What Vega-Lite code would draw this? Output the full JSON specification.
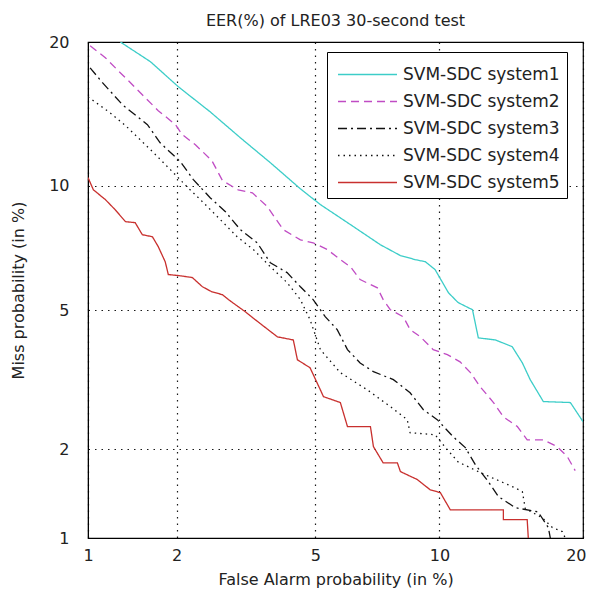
{
  "$schema": "https://vega.github.io/schema/vega-lite/v6.json",
  "width": 495,
  "height": 496,
  "autosize": "none",
  "padding": {"left": 88, "top": 42, "right": 9, "bottom": 51},
  "background": "white",
  "config": {
    "font": "DejaVu Sans",
    "view": {"stroke": "black", "strokeWidth": 1.2},
    "axis": {"labelColor": "#222", "titleColor": "#222", "labelFont": "DejaVu Sans", "titleFont": "DejaVu Sans"},
    "legend": {"labelFont": "DejaVu Sans"},
    "title": {"font": "DejaVu Sans"}
  },
  "title": {"text": "EER(%) of LRE03 30-second test", "fontSize": 16, "fontWeight": "normal", "color": "#222", "offset": 5},
  "data": {"values": [
    {"s": "SVM-SDC system1", "fa": 1.304, "miss": 20},
    {"s": "SVM-SDC system1", "fa": 1.648, "miss": 18.29},
    {"s": "SVM-SDC system1", "fa": 2.027, "miss": 16.29},
    {"s": "SVM-SDC system1", "fa": 2.539, "miss": 14.47},
    {"s": "SVM-SDC system1", "fa": 3.114, "miss": 12.76},
    {"s": "SVM-SDC system1", "fa": 3.788, "miss": 11.26},
    {"s": "SVM-SDC system1", "fa": 4.569, "miss": 9.85},
    {"s": "SVM-SDC system1", "fa": 5.157, "miss": 9.067},
    {"s": "SVM-SDC system1", "fa": 6.15, "miss": 8.146},
    {"s": "SVM-SDC system1", "fa": 7.281, "miss": 7.297},
    {"s": "SVM-SDC system1", "fa": 8.13, "miss": 6.868},
    {"s": "SVM-SDC system1", "fa": 8.809, "miss": 6.712},
    {"s": "SVM-SDC system1", "fa": 9.293, "miss": 6.634},
    {"s": "SVM-SDC system1", "fa": 9.78, "miss": 6.341},
    {"s": "SVM-SDC system1", "fa": 10.48, "miss": 5.548},
    {"s": "SVM-SDC system1", "fa": 11.01, "miss": 5.236},
    {"s": "SVM-SDC system1", "fa": 11.84, "miss": 5.017},
    {"s": "SVM-SDC system1", "fa": 12.19, "miss": 4.226},
    {"s": "SVM-SDC system1", "fa": 13.27, "miss": 4.171},
    {"s": "SVM-SDC system1", "fa": 14.39, "miss": 3.999},
    {"s": "SVM-SDC system1", "fa": 15.11, "miss": 3.607},
    {"s": "SVM-SDC system1", "fa": 15.68, "miss": 3.236},
    {"s": "SVM-SDC system1", "fa": 16.68, "miss": 2.795},
    {"s": "SVM-SDC system1", "fa": 18.89, "miss": 2.777},
    {"s": "SVM-SDC system1", "fa": 20, "miss": 2.435},

    {"s": "SVM-SDC system2", "fa": 1.018, "miss": 19.66},
    {"s": "SVM-SDC system2", "fa": 1.155, "miss": 18.63},
    {"s": "SVM-SDC system2", "fa": 1.282, "miss": 17.55},
    {"s": "SVM-SDC system2", "fa": 1.39, "miss": 16.76},
    {"s": "SVM-SDC system2", "fa": 1.548, "miss": 15.69},
    {"s": "SVM-SDC system2", "fa": 1.747, "miss": 14.55},
    {"s": "SVM-SDC system2", "fa": 1.984, "miss": 13.6},
    {"s": "SVM-SDC system2", "fa": 2.085, "miss": 12.95},
    {"s": "SVM-SDC system2", "fa": 2.29, "miss": 12.32},
    {"s": "SVM-SDC system2", "fa": 2.57, "miss": 11.38},
    {"s": "SVM-SDC system2", "fa": 2.763, "miss": 10.28},
    {"s": "SVM-SDC system2", "fa": 3.071, "miss": 9.796},
    {"s": "SVM-SDC system2", "fa": 3.373, "miss": 9.647},
    {"s": "SVM-SDC system2", "fa": 3.714, "miss": 8.971},
    {"s": "SVM-SDC system2", "fa": 4.107, "miss": 7.928},
    {"s": "SVM-SDC system2", "fa": 4.569, "miss": 7.493},
    {"s": "SVM-SDC system2", "fa": 4.937, "miss": 7.375},
    {"s": "SVM-SDC system2", "fa": 5.376, "miss": 7.102},
    {"s": "SVM-SDC system2", "fa": 5.8, "miss": 6.712},
    {"s": "SVM-SDC system2", "fa": 6.15, "miss": 6.446},
    {"s": "SVM-SDC system2", "fa": 6.5, "miss": 5.991},
    {"s": "SVM-SDC system2", "fa": 7.163, "miss": 5.712},
    {"s": "SVM-SDC system2", "fa": 7.398, "miss": 5.33},
    {"s": "SVM-SDC system2", "fa": 7.694, "miss": 5.017},
    {"s": "SVM-SDC system2", "fa": 8.261, "miss": 4.806},
    {"s": "SVM-SDC system2", "fa": 8.567, "miss": 4.447},
    {"s": "SVM-SDC system2", "fa": 9.051, "miss": 4.253},
    {"s": "SVM-SDC system2", "fa": 9.68, "miss": 3.926},
    {"s": "SVM-SDC system2", "fa": 10.42, "miss": 3.803},
    {"s": "SVM-SDC system2", "fa": 11.12, "miss": 3.632},
    {"s": "SVM-SDC system2", "fa": 11.72, "miss": 3.387},
    {"s": "SVM-SDC system2", "fa": 12.31, "miss": 3.086},
    {"s": "SVM-SDC system2", "fa": 13.14, "miss": 2.777},
    {"s": "SVM-SDC system2", "fa": 13.79, "miss": 2.518},
    {"s": "SVM-SDC system2", "fa": 14.75, "miss": 2.353},
    {"s": "SVM-SDC system2", "fa": 15.46, "miss": 2.14},
    {"s": "SVM-SDC system2", "fa": 16.68, "miss": 2.14},
    {"s": "SVM-SDC system2", "fa": 17.78, "miss": 2.039},
    {"s": "SVM-SDC system2", "fa": 18.63, "miss": 1.895},
    {"s": "SVM-SDC system2", "fa": 19.31, "miss": 1.708},

    {"s": "SVM-SDC system3", "fa": 1.018, "miss": 17.79},
    {"s": "SVM-SDC system3", "fa": 1.128, "miss": 16.61},
    {"s": "SVM-SDC system3", "fa": 1.325, "miss": 14.97},
    {"s": "SVM-SDC system3", "fa": 1.61, "miss": 13.6},
    {"s": "SVM-SDC system3", "fa": 1.772, "miss": 12.44},
    {"s": "SVM-SDC system3", "fa": 2.056, "miss": 11.32},
    {"s": "SVM-SDC system3", "fa": 2.257, "miss": 10.33},
    {"s": "SVM-SDC system3", "fa": 2.539, "miss": 9.403},
    {"s": "SVM-SDC system3", "fa": 2.82, "miss": 8.729},
    {"s": "SVM-SDC system3", "fa": 3.114, "miss": 7.928},
    {"s": "SVM-SDC system3", "fa": 3.481, "miss": 7.375},
    {"s": "SVM-SDC system3", "fa": 3.788, "miss": 6.595},
    {"s": "SVM-SDC system3", "fa": 4.209, "miss": 6.236},
    {"s": "SVM-SDC system3", "fa": 4.569, "miss": 5.747},
    {"s": "SVM-SDC system3", "fa": 4.937, "miss": 5.33},
    {"s": "SVM-SDC system3", "fa": 5.313, "miss": 4.806},
    {"s": "SVM-SDC system3", "fa": 5.695, "miss": 4.447},
    {"s": "SVM-SDC system3", "fa": 6.045, "miss": 3.926},
    {"s": "SVM-SDC system3", "fa": 6.5, "miss": 3.607},
    {"s": "SVM-SDC system3", "fa": 7.007, "miss": 3.409},
    {"s": "SVM-SDC system3", "fa": 7.825, "miss": 3.236},
    {"s": "SVM-SDC system3", "fa": 8.567, "miss": 2.966},
    {"s": "SVM-SDC system3", "fa": 9.196, "miss": 2.644},
    {"s": "SVM-SDC system3", "fa": 9.887, "miss": 2.469},
    {"s": "SVM-SDC system3", "fa": 10.74, "miss": 2.187},
    {"s": "SVM-SDC system3", "fa": 11.42, "miss": 2.025},
    {"s": "SVM-SDC system3", "fa": 12.02, "miss": 1.783},
    {"s": "SVM-SDC system3", "fa": 12.81, "miss": 1.571},
    {"s": "SVM-SDC system3", "fa": 13.46, "miss": 1.4},
    {"s": "SVM-SDC system3", "fa": 14.61, "miss": 1.282},
    {"s": "SVM-SDC system3", "fa": 16.28, "miss": 1.239},
    {"s": "SVM-SDC system3", "fa": 17.07, "miss": 1.091},
    {"s": "SVM-SDC system3", "fa": 17.23, "miss": 1},

    {"s": "SVM-SDC system4", "fa": 1, "miss": 15.54},
    {"s": "SVM-SDC system4", "fa": 1.201, "miss": 14.4},
    {"s": "SVM-SDC system4", "fa": 1.358, "miss": 13.54},
    {"s": "SVM-SDC system4", "fa": 1.523, "miss": 12.63},
    {"s": "SVM-SDC system4", "fa": 1.685, "miss": 11.85},
    {"s": "SVM-SDC system4", "fa": 1.912, "miss": 10.87},
    {"s": "SVM-SDC system4", "fa": 2.157, "miss": 9.956},
    {"s": "SVM-SDC system4", "fa": 2.423, "miss": 9.16},
    {"s": "SVM-SDC system4", "fa": 2.725, "miss": 8.364},
    {"s": "SVM-SDC system4", "fa": 3.05, "miss": 7.624},
    {"s": "SVM-SDC system4", "fa": 3.395, "miss": 7.102},
    {"s": "SVM-SDC system4", "fa": 3.788, "miss": 6.446},
    {"s": "SVM-SDC system4", "fa": 4.209, "miss": 5.887},
    {"s": "SVM-SDC system4", "fa": 4.569, "miss": 5.33},
    {"s": "SVM-SDC system4", "fa": 4.846, "miss": 4.723},
    {"s": "SVM-SDC system4", "fa": 5.157, "miss": 3.926},
    {"s": "SVM-SDC system4", "fa": 5.8, "miss": 3.387},
    {"s": "SVM-SDC system4", "fa": 6.773, "miss": 3.023},
    {"s": "SVM-SDC system4", "fa": 7.694, "miss": 2.701},
    {"s": "SVM-SDC system4", "fa": 8.435, "miss": 2.469},
    {"s": "SVM-SDC system4", "fa": 8.567, "miss": 2.253},
    {"s": "SVM-SDC system4", "fa": 9.78, "miss": 2.22},
    {"s": "SVM-SDC system4", "fa": 10.32, "miss": 2.025},
    {"s": "SVM-SDC system4", "fa": 11.01, "miss": 1.823},
    {"s": "SVM-SDC system4", "fa": 12.31, "miss": 1.683},
    {"s": "SVM-SDC system4", "fa": 14.61, "miss": 1.497},
    {"s": "SVM-SDC system4", "fa": 15.11, "miss": 1.453},
    {"s": "SVM-SDC system4", "fa": 15.32, "miss": 1.273},
    {"s": "SVM-SDC system4", "fa": 16.6, "miss": 1.182},
    {"s": "SVM-SDC system4", "fa": 17.39, "miss": 1.091},
    {"s": "SVM-SDC system4", "fa": 18.2, "miss": 1.055},
    {"s": "SVM-SDC system4", "fa": 18.46, "miss": 1},

    {"s": "SVM-SDC system5", "fa": 1, "miss": 10.44},
    {"s": "SVM-SDC system5", "fa": 1.046, "miss": 9.8},
    {"s": "SVM-SDC system5", "fa": 1.155, "miss": 9.309},
    {"s": "SVM-SDC system5", "fa": 1.25, "miss": 8.826},
    {"s": "SVM-SDC system5", "fa": 1.358, "miss": 8.277},
    {"s": "SVM-SDC system5", "fa": 1.465, "miss": 8.233},
    {"s": "SVM-SDC system5", "fa": 1.548, "miss": 7.711},
    {"s": "SVM-SDC system5", "fa": 1.672, "miss": 7.624},
    {"s": "SVM-SDC system5", "fa": 1.747, "miss": 7.219},
    {"s": "SVM-SDC system5", "fa": 1.84, "miss": 6.634},
    {"s": "SVM-SDC system5", "fa": 1.883, "miss": 6.166},
    {"s": "SVM-SDC system5", "fa": 2.027, "miss": 6.132},
    {"s": "SVM-SDC system5", "fa": 2.24, "miss": 6.062},
    {"s": "SVM-SDC system5", "fa": 2.406, "miss": 5.747},
    {"s": "SVM-SDC system5", "fa": 2.57, "miss": 5.579},
    {"s": "SVM-SDC system5", "fa": 2.763, "miss": 5.486},
    {"s": "SVM-SDC system5", "fa": 2.877, "miss": 5.33},
    {"s": "SVM-SDC system5", "fa": 3.071, "miss": 5.111},
    {"s": "SVM-SDC system5", "fa": 3.222, "miss": 4.955},
    {"s": "SVM-SDC system5", "fa": 3.438, "miss": 4.723},
    {"s": "SVM-SDC system5", "fa": 3.96, "miss": 4.253},
    {"s": "SVM-SDC system5", "fa": 4.375, "miss": 4.171},
    {"s": "SVM-SDC system5", "fa": 4.486, "miss": 3.681},
    {"s": "SVM-SDC system5", "fa": 4.846, "miss": 3.496},
    {"s": "SVM-SDC system5", "fa": 5.157, "miss": 3.023},
    {"s": "SVM-SDC system5", "fa": 5.251, "miss": 2.89},
    {"s": "SVM-SDC system5", "fa": 5.8, "miss": 2.777},
    {"s": "SVM-SDC system5", "fa": 6.045, "miss": 2.353},
    {"s": "SVM-SDC system5", "fa": 6.89, "miss": 2.353},
    {"s": "SVM-SDC system5", "fa": 7.007, "miss": 2.039},
    {"s": "SVM-SDC system5", "fa": 7.398, "miss": 1.809},
    {"s": "SVM-SDC system5", "fa": 7.999, "miss": 1.809},
    {"s": "SVM-SDC system5", "fa": 8.13, "miss": 1.696},
    {"s": "SVM-SDC system5", "fa": 8.906, "miss": 1.596},
    {"s": "SVM-SDC system5", "fa": 9.535, "miss": 1.475},
    {"s": "SVM-SDC system5", "fa": 10.05, "miss": 1.443},
    {"s": "SVM-SDC system5", "fa": 10.58, "miss": 1.26},
    {"s": "SVM-SDC system5", "fa": 13.79, "miss": 1.26},
    {"s": "SVM-SDC system5", "fa": 13.79, "miss": 1.164},
    {"s": "SVM-SDC system5", "fa": 15.46, "miss": 1.164},
    {"s": "SVM-SDC system5", "fa": 15.54, "miss": 1}
  ]},
  "mark": {"type": "line", "strokeWidth": 1.3, "clip": true},
  "encoding": {
    "x": {
      "field": "fa", "type": "quantitative",
      "scale": {"type": "pow", "exponent": 0.21, "domain": [1, 20], "nice": false, "zero": false},
      "axis": {
        "values": [1, 2, 5, 10, 20], "format": "d", "title": "False Alarm probability (in %)",
        "labelFontSize": 16, "titleFontSize": 16, "titleFontWeight": "normal",
        "ticks": false, "labelPadding": 9, "titlePadding": 8, "domainColor": "black",
        "grid": true, "gridColor": "black", "gridDash": [1.5, 5], "gridWidth": 1.2, "gridOpacity": 0.9,
        "labelFlush": false,
        "labelAlign": {"condition": {"test": "datum.value == 20", "value": "right"}, "value": "center"},
        "labelOffset": {"condition": {"test": "datum.value == 20", "value": 3}, "value": 0}
      }
    },
    "y": {
      "field": "miss", "type": "quantitative",
      "scale": {"type": "pow", "exponent": 0.21, "domain": [1, 20], "nice": false, "zero": false},
      "axis": {
        "values": [1, 2, 5, 10, 20], "format": "d", "title": "Miss probability (in %)",
        "labelFontSize": 16, "titleFontSize": 16, "titleFontWeight": "normal",
        "ticks": false, "labelPadding": 19, "titlePadding": 22, "domainColor": "black",
        "grid": true, "gridColor": "black", "gridDash": [1.5, 5], "gridWidth": 1.2, "gridOpacity": 0.9,
        "labelFlush": false
      }
    },
    "color": {
      "field": "s", "type": "nominal",
      "scale": {
        "domain": ["SVM-SDC system1", "SVM-SDC system2", "SVM-SDC system3", "SVM-SDC system4", "SVM-SDC system5"],
        "range": ["#3ccdc8", "#c04cc4", "#111111", "#111111", "#c8302e"]
      },
      "legend": {
        "title": null, "orient": "none", "legendX": 239, "legendY": 10,
        "fillColor": "white", "strokeColor": "black", "padding": 7,
        "symbolType": "M-2,0H2", "symbolSize": 870, "symbolStrokeWidth": 1.3, "symbolOffset": 18,
        "labelFontSize": 17, "labelColor": "#222", "labelOffset": 20, "rowPadding": 3
      }
    },
    "strokeDash": {
      "field": "s", "type": "nominal",
      "scale": {
        "domain": ["SVM-SDC system1", "SVM-SDC system2", "SVM-SDC system3", "SVM-SDC system4", "SVM-SDC system5"],
        "range": [[1, 0], [8, 5], [9, 4, 2, 4], [1.5, 4], [1, 0]]
      },
      "legend": {
        "title": null, "orient": "none", "legendX": 239, "legendY": 10,
        "fillColor": "white", "strokeColor": "black", "padding": 7,
        "symbolType": "M-2,0H2", "symbolSize": 870, "symbolStrokeWidth": 1.3, "symbolOffset": 18,
        "labelFontSize": 17, "labelColor": "#222", "labelOffset": 20, "rowPadding": 3
      }
    },
    "order": {"value": null}
  }
}
